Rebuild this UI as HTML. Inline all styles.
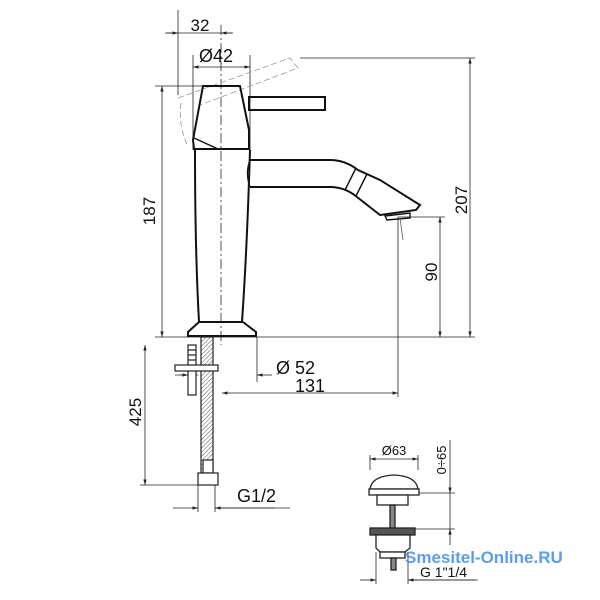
<!DOCTYPE html>
<html><head><meta charset="utf-8"><style>html,body{margin:0;padding:0;background:#fff}svg{display:block}</style></head><body>
<svg width="600" height="600" viewBox="0 0 600 600" xmlns="http://www.w3.org/2000/svg" font-family="Liberation Sans, sans-serif" fill="none" stroke="#222">
<defs>
<marker id="a" viewBox="0 0 10 10" refX="10" refY="5" markerWidth="7" markerHeight="7" orient="auto-start-reverse"><path d="M0,2 L10,5 L0,8z" fill="#222" stroke="none"/></marker>
<pattern id="h" width="3" height="3" patternUnits="userSpaceOnUse" patternTransform="rotate(45)"><line x1="0" y1="0" x2="0" y2="3" stroke="#555" stroke-width="1"/></pattern>
</defs>
<g stroke-width="0.8">
<line x1="178" y1="10" x2="178" y2="95"/>
<line x1="165" y1="33" x2="233" y2="33"/>
<line x1="167" y1="33" x2="178" y2="33" marker-end="url(#a)"/>
<line x1="232" y1="33" x2="221" y2="33" marker-end="url(#a)"/>
<line x1="221" y1="25" x2="221" y2="345" stroke-dasharray="10,3,2,3"/>
<line x1="193" y1="55" x2="193" y2="150"/>
<line x1="250" y1="55" x2="250" y2="150"/>
<line x1="193" y1="67" x2="250" y2="67" marker-start="url(#a)" marker-end="url(#a)"/>
<line x1="300" y1="58" x2="475" y2="58"/>
<line x1="470" y1="58" x2="470" y2="337" marker-start="url(#a)" marker-end="url(#a)"/>
<line x1="155" y1="86" x2="205" y2="86"/>
<line x1="162" y1="86" x2="162" y2="337" marker-start="url(#a)" marker-end="url(#a)"/>
<line x1="398" y1="217" x2="445" y2="217"/>
<line x1="440" y1="217" x2="440" y2="337" marker-start="url(#a)" marker-end="url(#a)"/>
<line x1="155" y1="337" x2="475" y2="337"/>
<line x1="398" y1="217" x2="398" y2="397"/>
<line x1="222" y1="393" x2="398" y2="393" marker-start="url(#a)" marker-end="url(#a)"/>
<line x1="257" y1="337" x2="257" y2="382"/>
<line x1="175" y1="375" x2="198" y2="375"/>
<line x1="180" y1="375" x2="188" y2="375" marker-end="url(#a)"/>
<line x1="272" y1="375" x2="257" y2="375" marker-end="url(#a)"/>
<line x1="140" y1="485" x2="200" y2="485"/>
<line x1="145" y1="345" x2="145" y2="485" marker-start="url(#a)" marker-end="url(#a)"/>
<line x1="198" y1="485" x2="198" y2="512"/>
<line x1="215" y1="485" x2="215" y2="512"/>
<line x1="173" y1="508" x2="198" y2="508" marker-end="url(#a)"/>
<line x1="275" y1="508" x2="215" y2="508" marker-end="url(#a)"/>
<line x1="215" y1="508" x2="290" y2="508"/>
<g stroke="#999" stroke-dasharray="6,3">
<path d="M178,98 L290,58 L298,68 L200,105"/>
<path d="M181,103 Q178,125 188,147"/>
</g>
<line x1="370" y1="455" x2="370" y2="470"/>
<line x1="418" y1="455" x2="418" y2="470"/>
<line x1="370" y1="459" x2="418" y2="459" marker-start="url(#a)" marker-end="url(#a)"/>
<line x1="410" y1="493" x2="455" y2="493"/>
<line x1="410" y1="529" x2="455" y2="529"/>
<line x1="450" y1="440" x2="450" y2="493" marker-end="url(#a)"/>
<line x1="450" y1="545" x2="450" y2="529" marker-end="url(#a)"/>
<line x1="450" y1="493" x2="450" y2="529"/>
<line x1="376" y1="552" x2="376" y2="584"/>
<line x1="408" y1="552" x2="408" y2="584"/>
<line x1="360" y1="580" x2="376" y2="580" marker-end="url(#a)"/>
<line x1="475" y1="580" x2="408" y2="580" marker-end="url(#a)"/>
<line x1="408" y1="580" x2="478" y2="580"/>
</g>
<g stroke="#111" stroke-width="2">
<path d="M203,86 L240,86 L249,130 L249,149 L194,149 L193,140 Z"/>
<path d="M194,138 L218,149" stroke-width="1.4"/>
<rect x="249" y="97" width="76" height="13"/>
<path d="M195,150 Q195,250 199,322 L242,322 Q247,250 250,150"/>
<path d="M199,322 L188,332 L188,336 L256,336 L256,332 L243,322"/>
<path d="M250,160 L330,160 Q345,160 358,170 L380,180 L420,205 L416,210 L380,215 L357,197 Q345,187 330,187 L250,187"/>
<path d="M250,160 Q245,173 250,187" stroke-width="1.4"/>
<path d="M356,168 L345,190" stroke-width="1.4"/>
<path d="M367,174 L356,196" stroke-width="1.4"/>
<path d="M385,216 L410,213 L410,218 L387,220 Z" stroke-width="1.4"/>
</g>
<line x1="400" y1="218" x2="403" y2="240" stroke="#555" stroke-width="0.8"/>
<g stroke="#222" stroke-width="1.2">
<rect x="201" y="337" width="12" height="136" fill="url(#h)"/>
<rect x="188" y="345" width="8" height="50" fill="#fff"/>
<line x1="188" y1="350" x2="196" y2="350"/><line x1="188" y1="355" x2="196" y2="355"/><line x1="188" y1="360" x2="196" y2="360"/>
<rect x="175" y="365" width="43" height="6" fill="#fff"/>
<rect x="203" y="460" width="10" height="13" fill="#fff"/>
<rect x="198" y="473" width="20" height="12" fill="#fff"/>
</g>
<g stroke="#222" stroke-width="1.3" fill="#fff">
<path d="M370,489 Q372,476 394,475 Q416,476 418,489 Z"/>
<rect x="369" y="489" width="50" height="6"/>
<rect x="377" y="495" width="31" height="10"/>
<rect x="390" y="505" width="5" height="24" fill="#888"/>
<rect x="370" y="528" width="45" height="7" fill="#555"/>
<path d="M376,535 L410,535 L410,548 L405,552 L380,552 L376,548 Z"/>
<rect x="380" y="552" width="25" height="6"/>
<rect x="391" y="558" width="5" height="12" fill="#888"/>
</g>
<g fill="#111" stroke="none" font-size="17">
<text x="200" y="31" text-anchor="middle">32</text>
<text x="199" y="62" font-size="18">Ø42</text>
<text x="276" y="374" font-size="18">Ø 52</text>
<text x="310" y="392" text-anchor="middle" font-size="18">131</text>
<text x="237" y="502" font-size="18">G1/2</text>
<text transform="translate(155,211) rotate(-90)" text-anchor="middle">187</text>
<text transform="translate(467,200) rotate(-90)" text-anchor="middle">207</text>
<text transform="translate(437,272) rotate(-90)" text-anchor="middle">90</text>
<text transform="translate(141,412) rotate(-90)" text-anchor="middle">425</text>
<text x="394" y="455" text-anchor="middle" font-size="13">Ø63</text>
<text transform="translate(446,460) rotate(-90)" text-anchor="middle" font-size="13">0÷65</text>
<text x="420" y="577" font-size="14">G 1"1/4</text>
<text x="405" y="563" font-size="17" font-weight="bold" fill="#3d8bf2" opacity="0.85">Smesitel-Online.RU</text>
</g>
</svg>
</body></html>
